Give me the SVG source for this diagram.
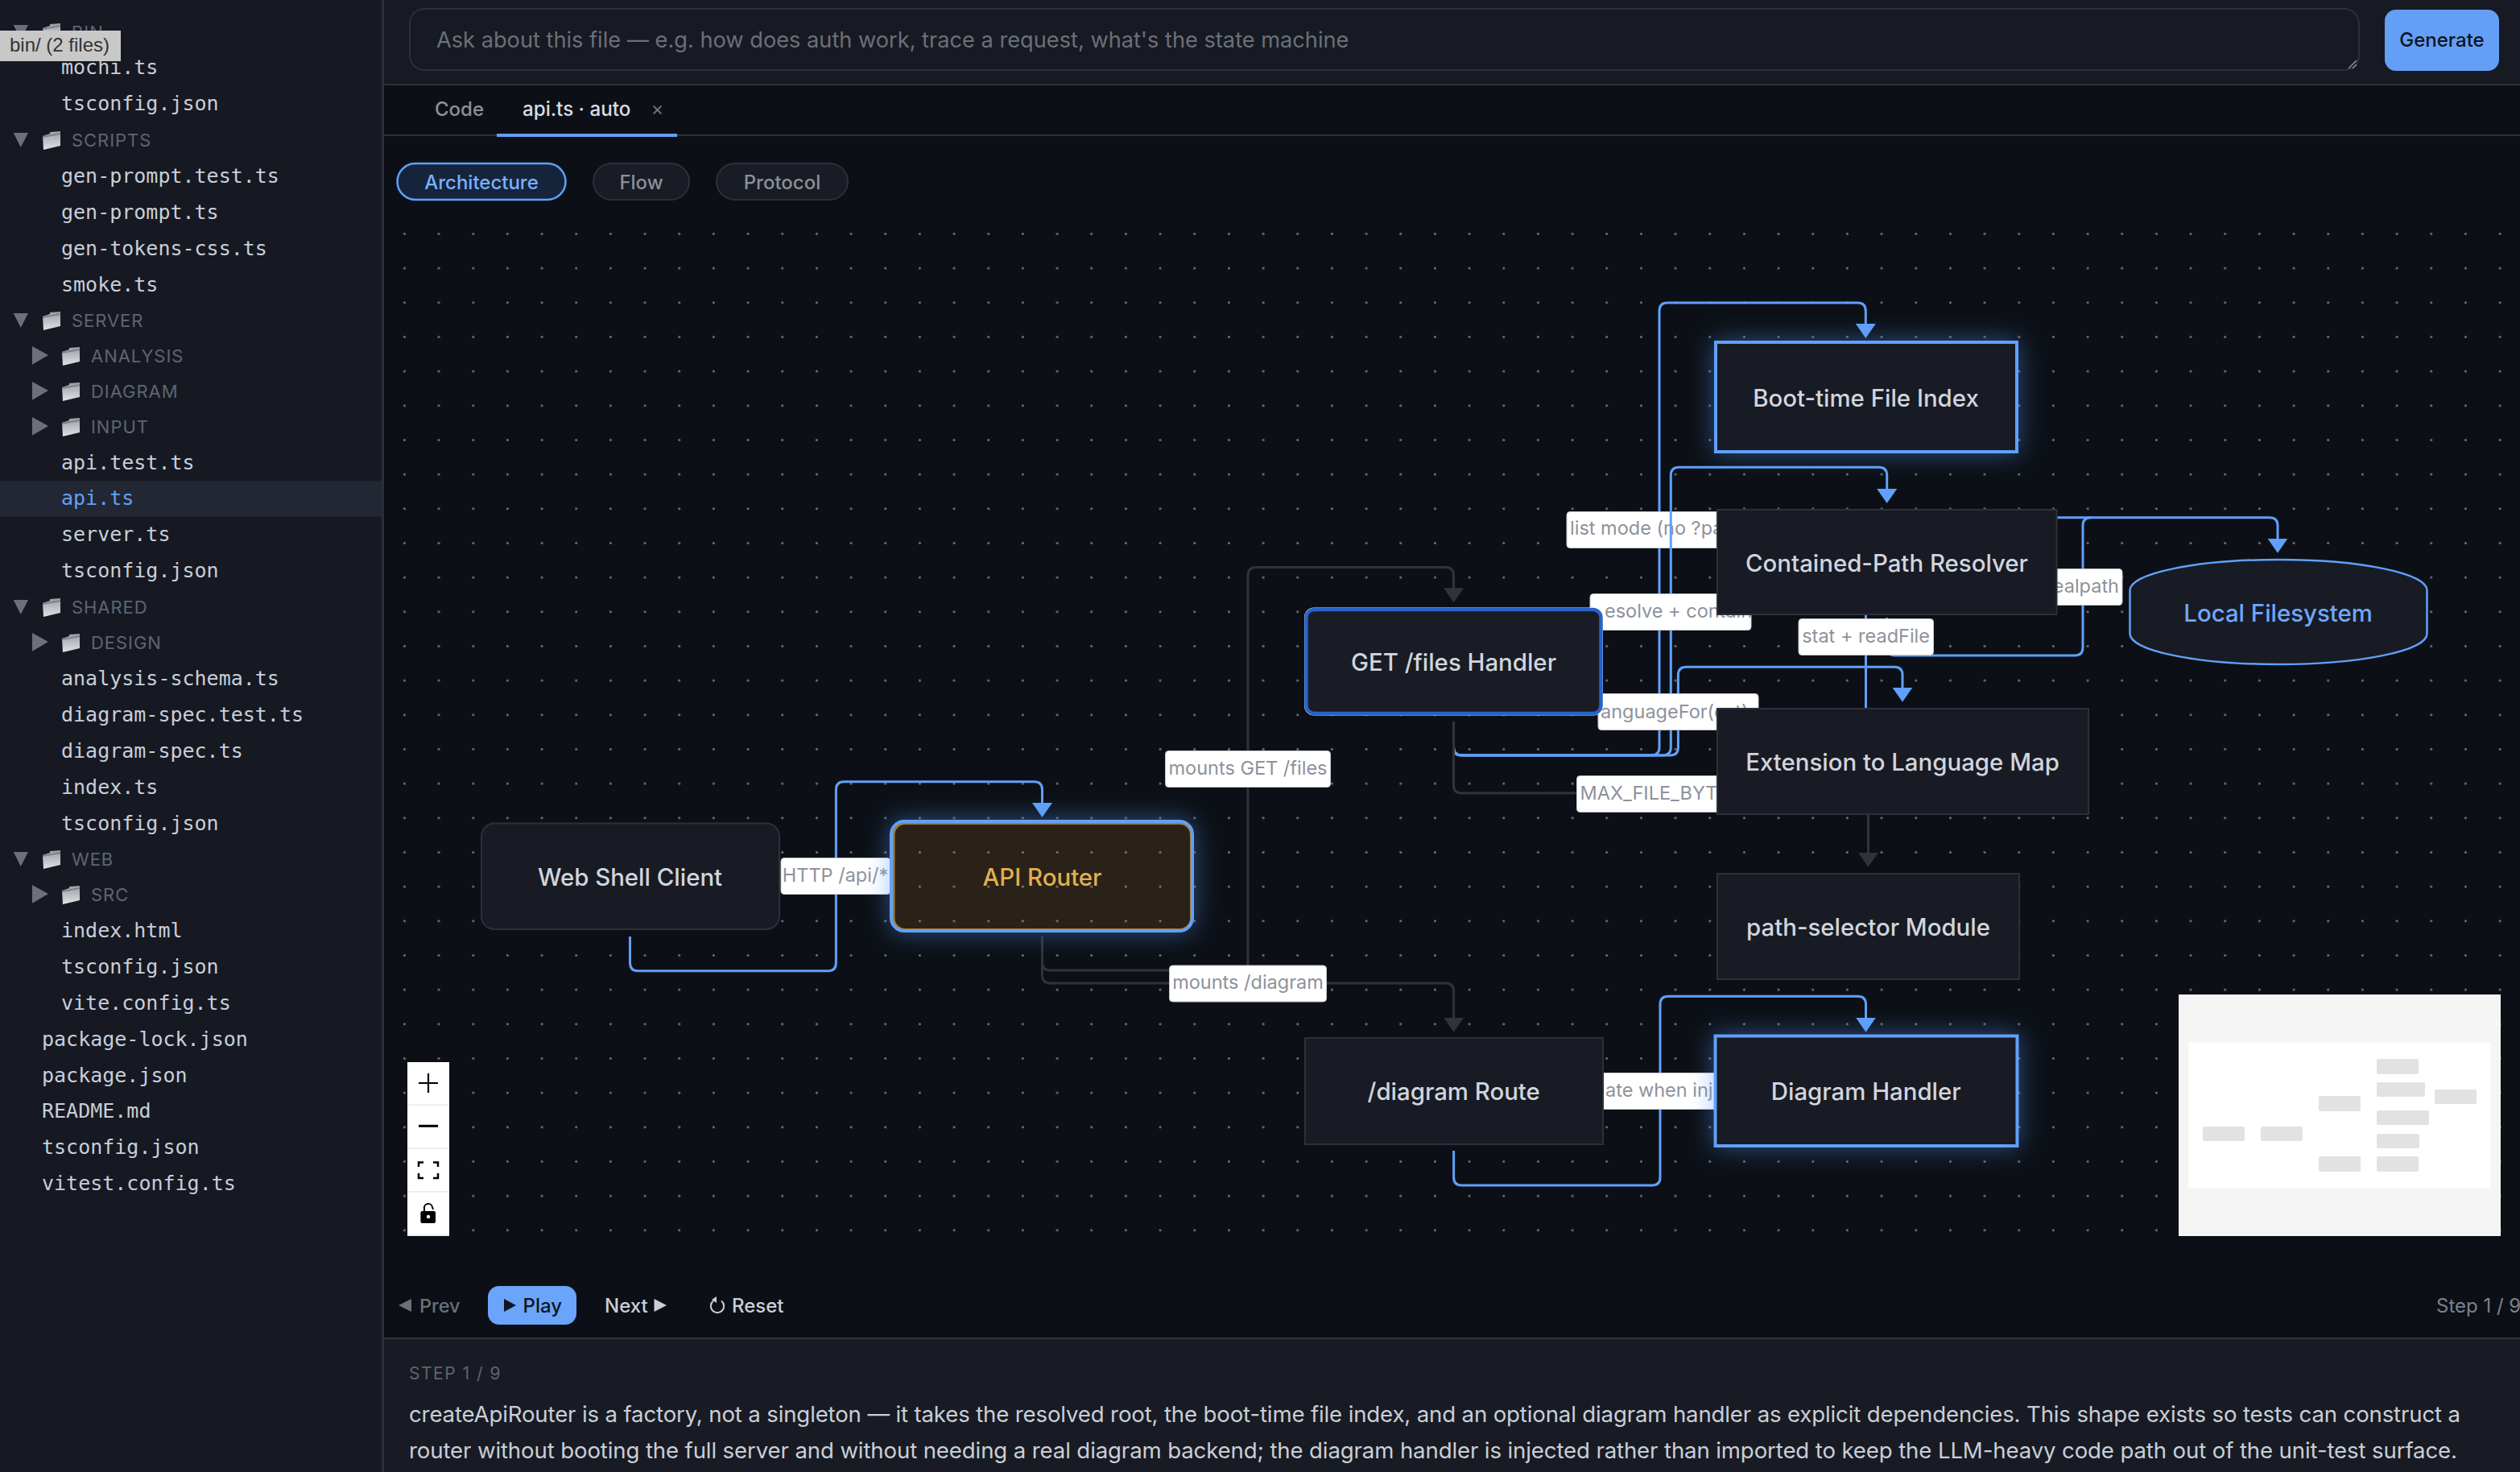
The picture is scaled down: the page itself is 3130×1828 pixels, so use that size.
<svg xmlns="http://www.w3.org/2000/svg" width="3130" height="1828" viewBox="0 0 3130 1828">
<style>
.ui{font-family:Inter,"Liberation Sans",sans-serif}
.file{font-family:"DejaVu Sans Mono","Liberation Mono",monospace;font-size:25px;fill:#c9ced8}
.dir{font-family:Inter,"Liberation Sans",sans-serif;font-size:22px;letter-spacing:.95px;fill:#5f6570}
.tri{fill:#6b7079}
.edge{fill:none;stroke-width:3}
.blue{stroke:#60a0fa}
.gray{stroke:#2f333b}
.lab{fill:#fff;stroke:#c4c7cc;stroke-width:1}
.lt{font-family:Inter,"Liberation Sans",sans-serif;font-size:23.5px;fill:#8d929b}
.node{fill:#181b23;stroke:#2c3038;stroke-width:2}
.nt{font-family:Inter,"Liberation Sans",sans-serif;font-size:29.4px;font-weight:500;fill:#d1d5de;text-anchor:middle}
.ring{fill:none;stroke:#60a0fa;stroke-width:4}
.mini{fill:#e2e2e2}
.btn{font-family:Inter,"Liberation Sans",sans-serif;font-size:24px;font-weight:500}
.pill{font-family:Inter,"Liberation Sans",sans-serif;font-size:24px;font-weight:500;text-anchor:middle;fill:#8b9099}
</style>
<defs>
<pattern id="dots" patternUnits="userSpaceOnUse" x="481.07" y="269.07" width="42.667" height="42.667"><circle cx="21.33" cy="21.33" r="1.5" fill="#6f737b"/></pattern>
<linearGradient id="fg" x1="0" y1="0" x2="0" y2="1"><stop offset="0" stop-color="#9a9ea5"/><stop offset="1" stop-color="#e0e2e5"/></linearGradient>
<g id="folder"><path d="M0,5 L9,2 L9,0 L22,-1 L22,17 L1,22 Z" fill="url(#fg)"/><path d="M0,5 L22,1 L22,3 L0,7 Z" fill="#7d8187"/></g>
<marker id="ab" markerUnits="userSpaceOnUse" viewBox="0 0 18 25" markerWidth="18" markerHeight="25" refX="10" refY="12.5" orient="auto"><path d="M0,0 L18,12.5 L0,25 Z" fill="#60a0fa"/></marker>
<marker id="ag" markerUnits="userSpaceOnUse" viewBox="0 0 18 25" markerWidth="18" markerHeight="25" refX="10" refY="12.5" orient="auto"><path d="M0,0 L18,12.5 L0,25 Z" fill="#2f333b"/></marker>
<filter id="glow" x="-30%" y="-60%" width="160%" height="220%"><feGaussianBlur in="SourceAlpha" stdDeviation="15" result="b"/><feFlood flood-color="#4f8fef" flood-opacity=".5"/><feComposite in2="b" operator="in"/><feComposite in2="SourceAlpha" operator="out"/></filter>
</defs>

<rect width="3130" height="1828" fill="#0c1016"/>
<rect x="478" y="252" width="2652" height="1307" fill="url(#dots)"/>

<g id="sidebar">
<rect width="474" height="1828" fill="#161922"/>
<rect x="474" width="3" height="1828" fill="#2a2e37"/>
<rect y="597.3" width="474" height="44.4" fill="#232733"/>
<path class="tri" d="M16.7,31 H35 L25.8,49 Z"/><use href="#folder" x="53" y="30"/><text class="dir" x="89" y="48">BIN</text>
<text class="file" x="76" y="92.3">mochi.ts</text>
<text class="file" x="76" y="137.3">tsconfig.json</text>
<path class="tri" d="M16.7,165 H35 L25.8,183 Z"/><use href="#folder" x="53" y="164"/><text class="dir" x="89" y="181.7">SCRIPTS</text>
<text class="file" x="76" y="226.7">gen-prompt.test.ts</text>
<text class="file" x="76" y="271.7">gen-prompt.ts</text>
<text class="file" x="76" y="316.7">gen-tokens-css.ts</text>
<text class="file" x="76" y="361.7">smoke.ts</text>
<path class="tri" d="M16.7,389 H35 L25.8,407 Z"/><use href="#folder" x="53" y="388"/><text class="dir" x="89" y="406">SERVER</text>
<path class="tri" d="M40,430 L60,441 L40,452.7 Z"/><use href="#folder" x="77" y="432"/><text class="dir" x="113" y="450">ANALYSIS</text>
<path class="tri" d="M40,474 L60,485 L40,496.7 Z"/><use href="#folder" x="77" y="476"/><text class="dir" x="113" y="494">DIAGRAM</text>
<path class="tri" d="M40,518 L60,529 L40,540.7 Z"/><use href="#folder" x="77" y="520"/><text class="dir" x="113" y="538">INPUT</text>
<text class="file" x="76" y="582.7">api.test.ts</text>
<text class="file" x="76" y="627.3" style="fill:#60a0fa">api.ts</text>
<text class="file" x="76" y="672.3">server.ts</text>
<text class="file" x="76" y="717.3">tsconfig.json</text>
<path class="tri" d="M16.7,745 H35 L25.8,763 Z"/><use href="#folder" x="53" y="744"/><text class="dir" x="89" y="762">SHARED</text>
<path class="tri" d="M40,786 L60,797 L40,808.7 Z"/><use href="#folder" x="77" y="788"/><text class="dir" x="113" y="806">DESIGN</text>
<text class="file" x="76" y="851">analysis-schema.ts</text>
<text class="file" x="76" y="896">diagram-spec.test.ts</text>
<text class="file" x="76" y="941">diagram-spec.ts</text>
<text class="file" x="76" y="986">index.ts</text>
<text class="file" x="76" y="1031">tsconfig.json</text>
<path class="tri" d="M16.7,1058 H35 L25.8,1076 Z"/><use href="#folder" x="53" y="1057"/><text class="dir" x="89" y="1075">WEB</text>
<path class="tri" d="M40,1099 L60,1110 L40,1121.7 Z"/><use href="#folder" x="77" y="1101"/><text class="dir" x="113" y="1119">SRC</text>
<text class="file" x="76" y="1163.5">index.html</text>
<text class="file" x="76" y="1208.5">tsconfig.json</text>
<text class="file" x="76" y="1253.5">vite.config.ts</text>
<text class="file" x="52" y="1298.5">package-lock.json</text>
<text class="file" x="52" y="1343.5">package.json</text>
<text class="file" x="52" y="1388">README.md</text>
<text class="file" x="52" y="1433">tsconfig.json</text>
<text class="file" x="52" y="1478">vitest.config.ts</text>
<rect y="38" width="150" height="38" fill="#c8c8c8"/>
<text x="12" y="64" font-family="'Liberation Sans',Arial,sans-serif" font-size="24" fill="#333">bin/ (2 files)</text>
</g>

<g id="topbar">
<rect x="477" width="2653" height="104" fill="#171a22"/>
<rect x="477" y="104" width="2653" height="2" fill="#2e323b"/>
<rect x="509" y="11" width="2421" height="76" rx="18" fill="#171a22" stroke="#2c3038" stroke-width="2"/>
<text class="ui" x="542" y="58.5" font-size="27.2" fill="#6b7079">Ask about this file — e.g. how does auth work, trace a request, what's the state machine</text>
<path d="M2917,85 L2927,75 M2922,85 L2927,80" stroke="#8b9099" stroke-width="1.5" fill="none"/>
<rect x="2962" y="12" width="142" height="76" rx="14" fill="#649ff7"/>
<text class="btn" x="3033" y="58" text-anchor="middle" fill="#0f1420">Generate</text>
</g>

<g id="tabs">
<rect x="477" y="167" width="2653" height="2" fill="#2e323b"/>
<rect x="617" y="166" width="224" height="4" fill="#649ff7"/>
<text class="ui" x="540" y="144" font-size="24" font-weight="500" fill="#8b9099">Code</text>
<text class="ui" x="649" y="144" font-size="24.2" font-weight="500" fill="#d9dce2">api.ts · auto</text>
<text class="ui" x="816.5" y="143" font-size="24" text-anchor="middle" fill="#6f747d">×</text>
<rect x="493.5" y="203" width="209" height="45" rx="22.5" fill="#16243b" stroke="#60a0fa" stroke-width="2.5"/>
<text class="pill" x="598" y="235" style="fill:#7ab0ff">Architecture</text>
<rect x="737" y="203" width="119" height="45" rx="22.5" fill="#191c24" stroke="#2c3038" stroke-width="2"/>
<text class="pill" x="796.5" y="235">Flow</text>
<rect x="890" y="203" width="163" height="45" rx="22.5" fill="#191c24" stroke="#2c3038" stroke-width="2"/>
<text class="pill" x="971.5" y="235">Protocol</text>
</g>

<g id="connectors">
<path class="edge gray" marker-end="url(#ag)" d="M1294.5,1163 V1195 Q1294.5,1205 1304.5,1205 H1540 Q1550,1205 1550,1195 V714.5 Q1550,704.5 1560,704.5 H1795.5 Q1805.5,704.5 1805.5,714.5 V740.3"/>
<rect class="lab" x="1447.5" y="932.5" width="205" height="45" rx="4"/><text class="lt" x="1550" y="961.7" text-anchor="middle">mounts GET /files</text>
<path class="edge gray" marker-end="url(#ag)" d="M1294.5,1163 V1211 Q1294.5,1221 1304.5,1221 H1795.6 Q1805.6,1221 1805.6,1231 V1273.7"/>
<rect class="lab" x="1452.5" y="1199" width="195" height="45" rx="4"/><text class="lt" x="1550" y="1228" text-anchor="middle">mounts /diagram</text>
<path class="edge blue" marker-end="url(#ab)" d="M782.5,1163 V1195.7 Q782.5,1205.7 792.5,1205.7 H1028.4 Q1038.4,1205.7 1038.4,1195.7 V980.7 Q1038.4,970.7 1048.4,970.7 H1284.5 Q1294.5,970.7 1294.5,980.7 V1007"/>
<rect class="lab" x="970" y="1065.5" width="136" height="45" rx="4"/><text class="lt" x="1037.5" y="1095" text-anchor="middle">HTTP /api/*</text>

<path class="edge blue" marker-end="url(#ab)" d="M1805.5,896 V928 Q1805.5,938 1815.5,938 H2051 Q2061,938 2061,928 V386 Q2061,376 2071,376 H2307.3 Q2317.3,376 2317.3,386 V412"/>
<rect class="lab" x="1946" y="635.5" width="230" height="45" rx="4"/><text class="lt" x="1950" y="664">list mode (no ?pa</text>
<path class="edge blue" marker-end="url(#ab)" d="M1805.5,896 V928 Q1805.5,938 1815.5,938 H2065.3 Q2075.3,938 2075.3,928 V590.3 Q2075.3,580.3 2085.3,580.3 H2333.7 Q2343.7,580.3 2343.7,590.3 V617"/>
<rect class="lab" x="1975" y="737.5" width="200" height="45" rx="4"/><text class="lt" x="1993" y="766.7">esolve + contain</text>
<path class="edge blue" marker-end="url(#ab)" d="M1805.5,896 V928 Q1805.5,938 1815.5,938 H2074.4 Q2084.4,938 2084.4,928 V838.3 Q2084.4,828.3 2094.4,828.3 H2353 Q2363,828.3 2363,838.3 V863.7"/>
<rect class="lab" x="1985" y="861.5" width="199" height="45" rx="4"/><text class="lt" x="1988" y="891.7">anguageFor(ext)</text>
<path class="edge gray" marker-end="url(#ag)" d="M1805.5,896 V975 Q1805.5,985 1815.5,985 H2310.5 Q2320.5,985 2320.5,995 V1068.7"/>
<rect class="lab" x="1958.5" y="963.5" width="200" height="45" rx="4"/><text class="lt" x="1962.5" y="993">MAX_FILE_BYT</text>
<path class="edge blue" marker-end="url(#ab)" d="M2317.5,880 V652.7 Q2317.5,642.7 2327.5,642.7 H2819 Q2829,642.7 2829,652.7 V678.7"/>
<path class="edge blue" d="M2343.7,767 V804 Q2343.7,814 2353.7,814 H2577 Q2587,814 2587,804 V652.7 Q2587,642.7 2597,642.7"/>
<rect class="lab" x="2234" y="768.5" width="167.5" height="45" rx="4"/><text class="lt" x="2317.6" y="797.7" text-anchor="middle">stat + readFile</text>
<rect class="lab" x="2538" y="706.5" width="98" height="45" rx="4"/><text class="lt" x="2632" y="736" text-anchor="end">ealpath</text>
<path class="edge blue" marker-end="url(#ab)" d="M1805.6,1429 V1462 Q1805.6,1472 1815.6,1472 H2052 Q2062,1472 2062,1462 V1247.3 Q2062,1237.3 2072,1237.3 H2307.5 Q2317.5,1237.3 2317.5,1247.3 V1273.7"/>
<rect class="lab" x="1985" y="1332.5" width="150" height="45" rx="4"/><text class="lt" x="1994" y="1362">ate when inj</text>
</g>

<g id="n-web"><rect class="node" x="598" y="1022.5" width="370" height="131.5" rx="16"/><text class="nt" x="782.5" y="1100">Web Shell Client</text></g>
<g id="n-api"><rect x="1105" y="1018" width="378" height="140" rx="18" fill="#000" filter="url(#glow)"/><rect x="1110" y="1022.5" width="369.5" height="132" rx="14" fill="#f5a623" fill-opacity=".13" stroke="#a87b2e" stroke-width="3"/><rect class="ring" x="1107" y="1020" width="374" height="136" rx="16"/><text class="nt" x="1294.5" y="1100" style="fill:#e0b050">API Router</text></g>
<g id="n-get"><rect x="1620" y="754.5" width="371" height="134" rx="12" fill="#fff"/><rect x="1622.5" y="757" width="366" height="129" rx="10" fill="#191c24" stroke="#2563c9" stroke-width="4.5"/><text class="nt" x="1805.5" y="832.7">GET /files Handler</text></g>
<g id="n-boot"><rect x="2129" y="423" width="378" height="140" fill="#000" filter="url(#glow)"/><rect class="node" x="2131" y="425" width="374" height="136"/><rect class="ring" x="2131" y="425" width="374" height="136"/><text class="nt" x="2317.5" y="505">Boot-time File Index</text></g>
<g id="n-contained"><rect class="node" x="2133" y="633" width="421.5" height="130"/><text class="nt" x="2343.5" y="710">Contained-Path Resolver</text></g>
<g id="n-ext"><rect class="node" x="2133" y="880" width="461" height="131"/><text class="nt" x="2363" y="956.7">Extension to Language Map</text></g>
<g id="n-path"><rect class="node" x="2133" y="1085" width="375" height="131"/><text class="nt" x="2320.5" y="1161.7">path-selector Module</text></g>
<g id="n-route"><rect class="node" x="1621" y="1289" width="370" height="132"/><text class="nt" x="1805.7" y="1365.7">/diagram Route</text></g>
<g id="n-handler"><rect x="2128.5" y="1284.5" width="379" height="140.5" fill="#000" filter="url(#glow)"/><rect class="node" x="2130.5" y="1286.5" width="375" height="136.5"/><rect class="ring" x="2130.5" y="1286.5" width="375" height="136.5"/><text class="nt" x="2317.7" y="1365.7">Diagram Handler</text></g>
<g id="n-fs"><path d="M2645.5,733 A184.5,38 0 0 1 3014.5,733 V787 A184.5,38 0 0 1 2645.5,787 Z" fill="#181b23" stroke="#60a0fa" stroke-width="2.5"/><text class="nt" x="2829.6" y="771.7" style="fill:#6ea8ff">Local Filesystem</text></g>

<g id="minimap">
<rect x="2706" y="1235" width="400" height="300" fill="#f5f5f5"/>
<rect x="2718.3" y="1294.3" width="375" height="181.4" fill="#fff"/>
<rect class="mini" x="2736" y="1399" width="52" height="18" rx="2"/>
<rect class="mini" x="2808" y="1399" width="52" height="18" rx="2"/>
<rect class="mini" x="2880" y="1361" width="52" height="19" rx="2"/>
<rect class="mini" x="2880" y="1436" width="52" height="19" rx="2"/>
<rect class="mini" x="2952" y="1315" width="52" height="19" rx="2"/>
<rect class="mini" x="2952" y="1344" width="60" height="18" rx="2"/>
<rect class="mini" x="2952" y="1379" width="65" height="18" rx="2"/>
<rect class="mini" x="2952" y="1408" width="53" height="18" rx="2"/>
<rect class="mini" x="2952" y="1436" width="52" height="19" rx="2"/>
<rect class="mini" x="3024" y="1353" width="52" height="18" rx="2"/>
</g>

<g id="controls">
<rect x="506" y="1319" width="52" height="216" fill="#fff"/>
<path d="M506,1372 H558 M506,1426 H558 M506,1480 H558 M506,1534 H558" stroke="#eee" stroke-width="2"/>
<path d="M520,1345 H544 M532,1333 V1357" stroke="#000" stroke-width="2.2" fill="none"/>
<path d="M520,1398.3 H544" stroke="#000" stroke-width="3" fill="none"/>
<path d="M520,1449 V1443.5 H526 M538,1443.5 H544 V1449 M544,1457 V1463 H538 M526,1463 H520 V1457" stroke="#000" stroke-width="2.5" fill="none"/>
<path d="M527,1504 V1501 A5,5 0 0 1 537,1499 L538,1502" stroke="#000" stroke-width="2" fill="none"/>
<rect x="522.4" y="1504" width="18.6" height="15" rx="2" fill="#000"/><circle cx="532" cy="1511" r="2.2" fill="#fff"/>
</g>

<g id="player">
<path d="M511,1613 V1629 L495,1621 Z" fill="#6b7079"/>
<text class="btn" x="521" y="1629.5" fill="#6b7079" style="font-size:23.5px">Prev</text>
<rect x="606" y="1597" width="110" height="48" rx="14" fill="#6ba4fb"/>
<path d="M626,1613 L641,1621 L626,1629 Z" fill="#0f1420"/>
<text class="btn" x="649.5" y="1629.5" fill="#0f1420">Play</text>
<text class="btn" x="751" y="1629.5" fill="#c9ced8">Next</text>
<path d="M812.5,1613 L828,1621 L812.5,1629 Z" fill="#c9ced8"/>
<path d="M886,1615.5 A8.2,8.2 0 1 0 896,1615.5" stroke="#c9ced8" stroke-width="2" fill="none"/>
<path d="M890,1610 L890,1618 L884,1614 Z" fill="#c9ced8"/>
<text class="btn" x="909" y="1629.5" fill="#c9ced8">Reset</text>
<text class="ui" x="3026" y="1630" font-size="24" fill="#7c818a">Step 1 / 9</text>
</g>

<g id="narration">
<rect x="477" y="1661" width="2653" height="167" fill="#181b23"/>
<rect x="477" y="1661" width="2653" height="2" fill="#2e323b"/>
<text class="ui" x="508" y="1713" font-size="21" letter-spacing="1.5" fill="#5f6570">STEP 1 / 9</text>
<text class="ui" x="508" y="1765.7" font-size="27.6" fill="#c9ced8" textLength="2548" lengthAdjust="spacing">createApiRouter is a factory, not a singleton — it takes the resolved root, the boot-time file index, and an optional diagram handler as explicit dependencies. This shape exists so tests can construct a</text>
<text class="ui" x="508" y="1810.7" font-size="27.6" fill="#c9ced8" textLength="2544" lengthAdjust="spacing">router without booting the full server and without needing a real diagram backend; the diagram handler is injected rather than imported to keep the LLM-heavy code path out of the unit-test surface.</text>
</g>
</svg>
